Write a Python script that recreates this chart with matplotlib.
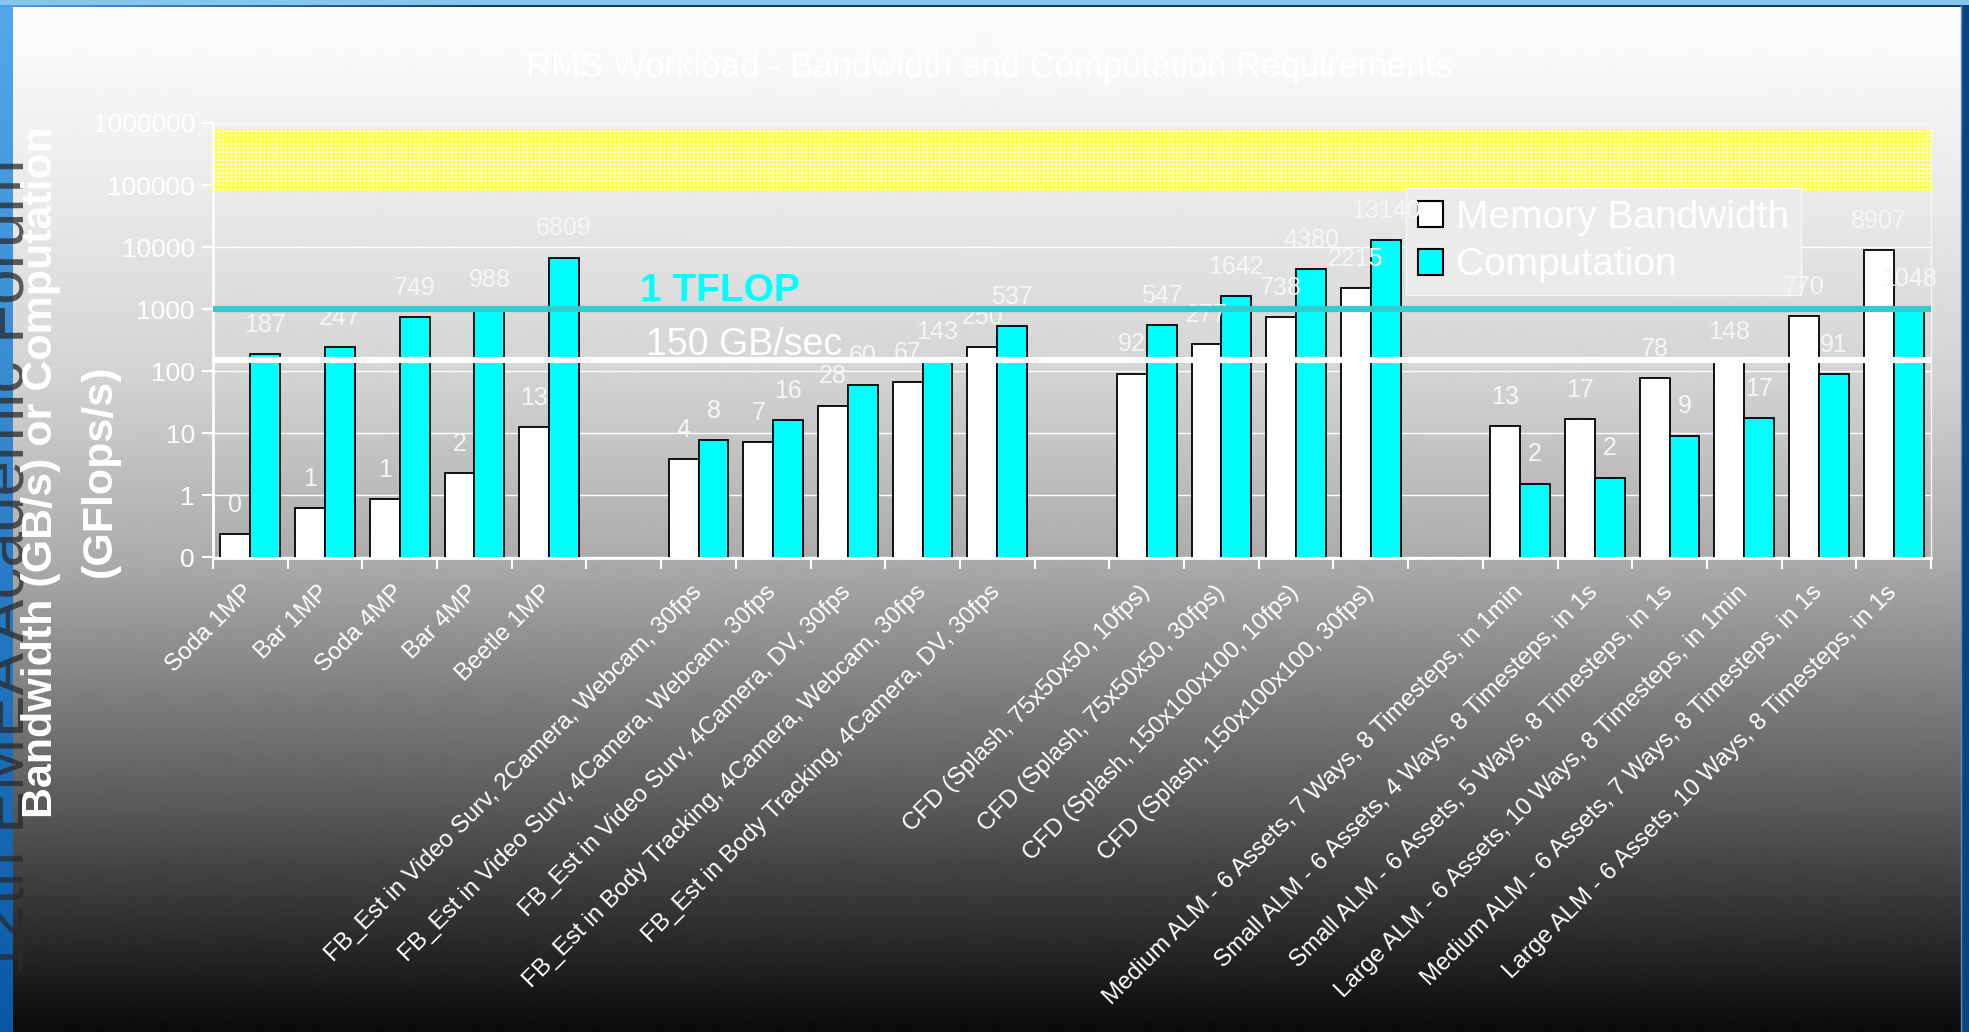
import numpy as np
import matplotlib
matplotlib.use('Agg')
import matplotlib.pyplot as plt
from matplotlib import font_manager
from matplotlib.patches import Patch, Rectangle
from matplotlib.transforms import ScaledTranslation

# workloads, one list per group
imaging = ['Soda 1MP', 'Bar 1MP', 'Soda 4MP', 'Bar 4MP', 'Beetle 1MP']
imaging_bw = [0.24, 0.63, 0.86, 2.3, 12.6]
imaging_gf = [187, 247, 749, 988, 6809]

video = ['FB_Est in Video Surv, 2Camera, Webcam, 30fps',
         'FB_Est in Video Surv, 4Camera, Webcam, 30fps',
         'FB_Est in Video Surv, 4Camera, DV, 30fps',
         'FB_Est in Body Tracking, 4Camera, Webcam, 30fps',
         'FB_Est in Body Tracking, 4Camera, DV, 30fps']
video_bw = [3.8, 7.2, 28, 67, 250]
video_gf = [7.7, 16.3, 60, 143, 537]

cfd = ['CFD (Splash, 75x50x50, 10fps)', 'CFD (Splash, 75x50x50, 30fps)',
       'CFD (Splash, 150x100x100, 10fps)', 'CFD (Splash, 150x100x100, 30fps)']
cfd_bw = [92, 277, 738, 2215]
cfd_gf = [547, 1642, 4380, 13140]

alm = ['Medium ALM - 6 Assets, 7 Ways, 8 Timesteps, in 1min',
       'Small ALM - 6 Assets, 4 Ways, 8 Timesteps, in 1s',
       'Small ALM - 6 Assets, 5 Ways, 8 Timesteps, in 1s',
       'Large ALM - 6 Assets, 10 Ways, 8 Timesteps, in 1min',
       'Medium ALM - 6 Assets, 7 Ways, 8 Timesteps, in 1s',
       'Large ALM - 6 Assets, 10 Ways, 8 Timesteps, in 1s']
alm_bw = [13, 17, 78, 148, 770, 8907]
alm_gf = [1.55, 1.94, 9.2, 17.4, 91, 1048]

tflop = 1000      # GFlops/s
mem_limit = 150   # GB/s
ytick_vals = [0.1, 1, 10, 100, 1000, 10000, 100000, 1000000]
ytick_labels = ['0', '1', '10', '100', '1000', '10000', '100000', '1000000']

names = {f.name for f in font_manager.fontManager.ttflist}
SANS = 'Liberation Sans' if 'Liberation Sans' in names else 'DejaVu Sans'
NARROW = 'Liberation Sans Narrow' if 'Liberation Sans Narrow' in names else SANS
plt.rcParams['font.family'] = [SANS, 'DejaVu Sans']
plt.rcParams['hatch.linewidth'] = 0.7

W, H = 1969, 1032
fig = plt.figure(figsize=(W / 100, H / 100), dpi=100)

# slide background
bg = fig.add_axes([0, 0, 1, 1], zorder=-10)
bg.set_axis_off()
rows = np.arange(H)
gray = np.interp(rows, [0, 50, 110, 200, 370, 557, 790, 1032],
                 [252, 250, 243, 233, 212, 172, 95, 10]) / 255
bg.imshow(gray[:, None], cmap='gray', vmin=0, vmax=1, extent=(0, W, H, 0),
          aspect='auto', interpolation='bilinear')
top_c = np.array([0x55, 0xa8, 0xec]) / 255
bot_c = np.array([0x08, 0x58, 0xa6]) / 255
t = (rows / H)[:, None]
strip = (top_c * (1 - t) + bot_c * t)[:, None, :]
bg.imshow(strip, extent=(0, 13, H, 0), aspect='auto')
bg.add_patch(Rectangle((0, 0), W, 5, color='#88c5ec', lw=0))
cols = np.arange(W)
u = np.clip(cols / 500, 0, 1)[:, None]
line_c = np.array([0x4a, 0x9e, 0xe6]) / 255 * (1 - u) + np.array([0x0a, 0x3a, 0x6a]) / 255 * u
bg.imshow(line_c[None, :, :], extent=(0, W, 7, 5), aspect='auto')
bg.add_patch(Rectangle((1962, 5), 7, H, color='#0a4580', lw=0))
bg.plot([1961, 1961], [5, H], color='#5a8ac0', lw=1)
bg.set_xlim(0, W)
bg.set_ylim(H, 0)

bg.text(24, 975, '12th EMEA Academic Forum', rotation=90, rotation_mode='anchor',
        ha='left', va='baseline', fontsize=46, color='#2a2a2a', alpha=0.75)
bg.text(989, 68, 'RMS Workload - Bandwidth and Computation Requirements',
        ha='center', va='center', fontsize=25, color='white')
bg.text(41, 472, 'Bandwidth (GB/s) or Computation', rotation=90, ha='center',
        va='center', fontsize=31, fontweight='bold', color='white')
bg.text(100, 471, '(GFlops/s)', rotation=90, ha='center', va='center',
        fontsize=31, fontweight='bold', color='white')

# category positions, one empty slot between groups
labels, bw, gf, pos = [], [], [], []
x = 0
for names_g, bw_g, gf_g in [(imaging, imaging_bw, imaging_gf), (video, video_bw, video_gf),
                            (cfd, cfd_bw, cfd_gf), (alm, alm_bw, alm_gf)]:
    for n, b, g in zip(names_g, bw_g, gf_g):
        labels.append(n)
        bw.append(b)
        gf.append(g)
        pos.append(x)
        x += 1
    x += 1
pos = np.array(pos)
n_slots = x - 1

ax = fig.add_axes([213 / W, 1 - 557.5 / H, (1931 - 213) / W, (557.5 - 123) / H])
ax.set_facecolor('none')
ax.set_yscale('log')
ax.set_ylim(0.1, 1e6)
ax.set_xlim(-0.5, n_slots - 0.5)
ax.set_axisbelow(True)

ax.axhspan(8e4, 8e5, facecolor='#ffff3a', edgecolor='#ffffd8', hatch='++++',
           linewidth=0, zorder=1)

ax.bar(pos - 0.2, bw, width=0.4, color='white', edgecolor='black',
       linewidth=1.3, zorder=2)
ax.bar(pos + 0.2, gf, width=0.4, color='#00ffff', edgecolor='black',
       linewidth=1.3, zorder=2)

for xs, vals in [(pos - 0.2, bw), (pos + 0.2, gf)]:
    for xi, v in zip(xs, vals):
        ax.annotate(f'{v:.0f}', (xi, v), xytext=(0, 21), textcoords='offset points',
                    ha='center', va='center', fontsize=18, family=NARROW,
                    color='#f6f6f6', zorder=2.5)

ax.axhline(tflop, color='#33cccc', lw=4.5, zorder=3)
ax.axhline(mem_limit, color='white', lw=4.5, zorder=3)
ax.annotate('1 TFLOP', (5.22, tflop), xytext=(0, 6), textcoords='offset points',
            ha='left', va='baseline', fontsize=28, fontweight='bold', family=NARROW,
            color='#00ffff', zorder=4)
ax.annotate('150 GB/sec', (5.30, mem_limit), xytext=(0, 4), textcoords='offset points',
            ha='left', va='baseline', fontsize=27, family=NARROW,
            color='white', zorder=4)

# axes styling
for side in ['left', 'bottom']:
    ax.spines[side].set_color('white')
    ax.spines[side].set_linewidth(2)
for side in ['top', 'right']:
    ax.spines[side].set_color('#f6f6f6')
    ax.spines[side].set_linewidth(1)

ax.yaxis.set_minor_locator(matplotlib.ticker.NullLocator())
ax.set_yticks(ytick_vals, ytick_labels)
ax.tick_params(axis='y', which='major', direction='out', length=8, width=1.5,
               color='white', labelcolor='white', labelsize=19, pad=5)
ax.grid(axis='y', color='white', lw=1)

ax.set_xticks(pos, labels, rotation=45, ha='right', va='top', rotation_mode='anchor')
ax.set_xticks(np.arange(-0.5, n_slots), minor=True)
ax.tick_params(axis='x', which='major', length=0, pad=17, labelsize=17.5,
               labelcolor='white')
ax.tick_params(axis='x', which='minor', direction='out', length=8, width=1.5,
               color='white')
shift = ScaledTranslation(-8 / 100, 0, fig.dpi_scale_trans)
for lbl in ax.get_xticklabels():
    lbl.set_transform(lbl.get_transform() + shift)

handles = [Patch(facecolor='white', edgecolor='black', lw=1.5),
           Patch(facecolor='#00ffff', edgecolor='black', lw=1.5)]
leg = ax.legend(handles, ['Memory Bandwidth', 'Computation'], loc='upper left',
                bbox_to_anchor=(1406 / W, 1 - 188 / H), bbox_transform=fig.transFigure,
                fontsize=28, labelcolor='white', handlelength=0.64, handleheight=0.64,
                handletextpad=0.35, borderpad=0.3, labelspacing=0.3,
                borderaxespad=0, fancybox=False, framealpha=1,
                facecolor='#ebebeb', edgecolor='#f8f8f8')
leg.get_frame().set_linewidth(1)
# box hides the grid but sits under the value labels
leg.set_zorder(2.2)

fig.savefig('out.png', dpi=100)
